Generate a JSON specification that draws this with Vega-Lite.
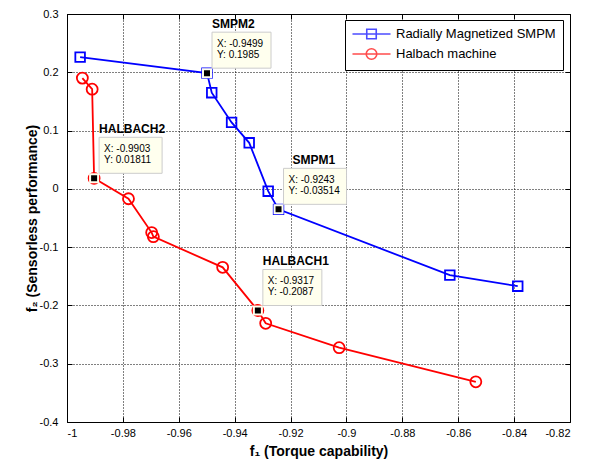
{
  "$schema": "https://vega.github.io/schema/vega-lite/v6.json",
  "width": 503,
  "height": 408,
  "autosize": {"type": "none"},
  "padding": {"left": 67, "top": 14, "right": 26, "bottom": 40},
  "background": "white",
  "datasets": {
    "curves": [
      {"series": "Radially Magnetized SMPM", "i": 1, "f1": -0.9953, "f2": 0.226},
      {"series": "Radially Magnetized SMPM", "i": 2, "f1": -0.9499, "f2": 0.1985},
      {"series": "Radially Magnetized SMPM", "i": 3, "f1": -0.9482, "f2": 0.165},
      {"series": "Radially Magnetized SMPM", "i": 4, "f1": -0.9411, "f2": 0.114},
      {"series": "Radially Magnetized SMPM", "i": 5, "f1": -0.9348, "f2": 0.079},
      {"series": "Radially Magnetized SMPM", "i": 6, "f1": -0.928, "f2": -0.004},
      {"series": "Radially Magnetized SMPM", "i": 7, "f1": -0.9243, "f2": -0.03514},
      {"series": "Radially Magnetized SMPM", "i": 8, "f1": -0.863, "f2": -0.148},
      {"series": "Radially Magnetized SMPM", "i": 9, "f1": -0.8387, "f2": -0.167},
      {"series": "Halbach machine", "i": 1, "f1": -0.9945, "f2": 0.19},
      {"series": "Halbach machine", "i": 2, "f1": -0.991, "f2": 0.171},
      {"series": "Halbach machine", "i": 3, "f1": -0.9903, "f2": 0.01811},
      {"series": "Halbach machine", "i": 4, "f1": -0.978, "f2": -0.017},
      {"series": "Halbach machine", "i": 5, "f1": -0.9697, "f2": -0.075},
      {"series": "Halbach machine", "i": 6, "f1": -0.9691, "f2": -0.082},
      {"series": "Halbach machine", "i": 7, "f1": -0.9443, "f2": -0.1346},
      {"series": "Halbach machine", "i": 8, "f1": -0.9317, "f2": -0.2087},
      {"series": "Halbach machine", "i": 9, "f1": -0.9289, "f2": -0.2307},
      {"series": "Halbach machine", "i": 10, "f1": -0.9026, "f2": -0.2725},
      {"series": "Halbach machine", "i": 11, "f1": -0.8537, "f2": -0.331}
    ],
    "tips": [
      {"name": "SMPM2", "f1": -0.9499, "f2": 0.1985, "xt": "X: -0.9499", "yt": "Y: 0.1985"},
      {"name": "HALBACH2", "f1": -0.9903, "f2": 0.01811, "xt": "X: -0.9903", "yt": "Y: 0.01811"},
      {"name": "SMPM1", "f1": -0.9243, "f2": -0.03514, "xt": "X: -0.9243", "yt": "Y: -0.03514"},
      {"name": "HALBACH1", "f1": -0.9317, "f2": -0.2087, "xt": "X: -0.9317", "yt": "Y: -0.2087"}
    ]
  },
  "config": {
    "font": "Liberation Sans",
    "view": {"stroke": "black", "strokeWidth": 1},
    "axis": {
      "domain": false,
      "labelFont": "Liberation Sans",
      "labelFontSize": 11,
      "labelColor": "black",
      "tickColor": "black",
      "tickSize": -5,
      "titleFont": "Liberation Sans",
      "titleFontWeight": "bold",
      "titleFontSize": 14,
      "titleColor": "black"
    }
  },
  "layer": [
    {
      "data": {"name": "curves"},
      "mark": {"type": "line", "strokeWidth": 1.8},
      "encoding": {
        "x": {
          "field": "f1", "type": "quantitative",
          "scale": {"domain": [-1, -0.82], "nice": false, "zero": false},
          "axis": {
            "orient": "bottom",
            "values": [-1, -0.98, -0.96, -0.94, -0.92, -0.9, -0.88, -0.86, -0.84, -0.82],
            "labelExpr": "'' + datum.value",
            "labelPadding": 10,
            "grid": true, "gridColor": "#000", "gridDash": [1, 2], "gridWidth": 1,
            "title": "f₁ (Torque capability)",
            "titleX": 251.5, "titleY": 29, "titleBaseline": "middle"
          }
        },
        "y": {
          "field": "f2", "type": "quantitative",
          "scale": {"domain": [-0.4, 0.3], "nice": false, "zero": false},
          "axis": {
            "orient": "left",
            "values": [-0.4, -0.3, -0.2, -0.1, 0, 0.1, 0.2, 0.3],
            "labelExpr": "'' + datum.value",
            "labelPadding": 14,
            "grid": true, "gridColor": "#000", "gridDash": [1, 2], "gridWidth": 1,
            "title": "f₂ (Sensorless performance)",
            "titleX": -35, "titleY": 204, "titleAngle": -90, "titleBaseline": "middle", "titleAlign": "center"
          }
        },
        "order": {"field": "i", "type": "quantitative"},
        "color": {
          "field": "series", "type": "nominal",
          "scale": {"domain": ["Radially Magnetized SMPM", "Halbach machine"], "range": ["#0000ff", "#ff0000"]},
          "legend": {
            "title": null,
            "orient": "none",
            "legendX": 278,
            "legendY": 6,
            "padding": 7,
            "strokeColor": "black",
            "fillColor": "white",
            "labelFont": "Liberation Sans",
            "labelFontSize": 13,
            "labelColor": "black",
            "symbolOffset": 12.5,
            "labelOffset": 17.5,
            "rowPadding": 3,
            "symbolSize": 144,
            "symbolStrokeWidth": 1.6,
            "symbolFillColor": "transparent"
          }
        }
      }
    },
    {
      "data": {"name": "curves"},
      "transform": [{"filter": "false"}],
      "mark": {"type": "point", "filled": false, "strokeWidth": 1.6, "size": 144},
      "encoding": {
        "x": {"field": "f1", "type": "quantitative", "axis": null},
        "y": {"field": "f2", "type": "quantitative", "axis": null},
        "color": {
          "field": "series", "type": "nominal",
          "scale": {"domain": ["Radially Magnetized SMPM", "Halbach machine"], "range": ["#0000ff", "#ff0000"]}
        },
        "shape": {
          "field": "series", "type": "nominal",
          "scale": {
            "domain": ["Radially Magnetized SMPM", "Halbach machine"],
            "range": [
              "M-3.17,0H3.17M-0.79,-0.79H0.79V0.79H-0.79Z",
              "M-3.17,0H3.17M0.88,0C0.88,0.486 0.486,0.88 0,0.88C-0.486,0.88 -0.88,0.486 -0.88,0C-0.88,-0.486 -0.486,-0.88 0,-0.88C0.486,-0.88 0.88,-0.486 0.88,0Z"
            ]
          }
        }
      }
    },
    {
      "data": {"name": "curves"},
      "transform": [{"filter": "datum.series === 'Radially Magnetized SMPM'"}],
      "mark": {"type": "point", "shape": "square", "filled": false, "stroke": "#0000ff", "strokeWidth": 1.8, "size": 92, "opacity": 1},
      "encoding": {
        "x": {
          "field": "f1", "type": "quantitative",
          "axis": {"orient": "top", "labels": false, "grid": false, "title": null,
                   "values": [-1, -0.98, -0.96, -0.94, -0.92, -0.9, -0.88, -0.86, -0.84, -0.82]}
        },
        "y": {
          "field": "f2", "type": "quantitative",
          "axis": {"orient": "right", "labels": false, "grid": false, "title": null,
                   "values": [-0.4, -0.3, -0.2, -0.1, 0, 0.1, 0.2, 0.3]}
        }
      }
    },
    {
      "data": {"name": "curves"},
      "transform": [{"filter": "datum.series === 'Halbach machine'"}],
      "mark": {"type": "point", "shape": "circle", "filled": false, "stroke": "#ff0000", "strokeWidth": 1.8, "size": 121, "opacity": 1},
      "encoding": {
        "x": {"field": "f1", "type": "quantitative", "axis": null},
        "y": {"field": "f2", "type": "quantitative", "axis": null}
      }
    },
    {
      "data": {"name": "tips"},
      "transform": [{"filter": "datum.name === 'SMPM2' || datum.name === 'HALBACH1'"}],
      "mark": {"type": "rect", "fill": "#ffffee", "stroke": "#cccccc", "strokeWidth": 1,
               "xOffset": 5, "x2Offset": 64, "yOffset": -41, "y2Offset": -5},
      "encoding": {
        "x": {"field": "f1", "type": "quantitative", "axis": null},
        "x2": {"field": "f1"},
        "y": {"field": "f2", "type": "quantitative", "axis": null},
        "y2": {"field": "f2"}
      }
    },
    {
      "data": {"name": "tips"},
      "transform": [{"filter": "datum.name === 'SMPM1' || datum.name === 'HALBACH2'"}],
      "mark": {"type": "rect", "fill": "#ffffee", "stroke": "#cccccc", "strokeWidth": 1,
               "xOffset": 5, "x2Offset": 68, "yOffset": -41, "y2Offset": -5},
      "encoding": {
        "x": {"field": "f1", "type": "quantitative", "axis": null},
        "x2": {"field": "f1"},
        "y": {"field": "f2", "type": "quantitative", "axis": null},
        "y2": {"field": "f2"}
      }
    },
    {
      "data": {"name": "tips"},
      "mark": {"type": "text", "align": "left", "baseline": "middle", "dx": 10, "dy": -29,
               "fontSize": 10, "font": "Liberation Sans", "color": "black"},
      "encoding": {
        "x": {"field": "f1", "type": "quantitative", "axis": null},
        "y": {"field": "f2", "type": "quantitative", "axis": null},
        "text": {"field": "xt"}
      }
    },
    {
      "data": {"name": "tips"},
      "mark": {"type": "text", "align": "left", "baseline": "middle", "dx": 10, "dy": -18,
               "fontSize": 10, "font": "Liberation Sans", "color": "black"},
      "encoding": {
        "x": {"field": "f1", "type": "quantitative", "axis": null},
        "y": {"field": "f2", "type": "quantitative", "axis": null},
        "text": {"field": "yt"}
      }
    },
    {
      "data": {"name": "tips"},
      "transform": [{"filter": "datum.name !== 'SMPM1'"}],
      "mark": {"type": "text", "align": "left", "baseline": "middle", "dx": 5, "dy": -49,
               "fontSize": 12, "fontWeight": "bold", "font": "Liberation Sans", "color": "black"},
      "encoding": {
        "x": {"field": "f1", "type": "quantitative", "axis": null},
        "y": {"field": "f2", "type": "quantitative", "axis": null},
        "text": {"field": "name"}
      }
    },
    {
      "data": {"name": "tips"},
      "transform": [{"filter": "datum.name === 'SMPM1'"}],
      "mark": {"type": "text", "align": "left", "baseline": "middle", "dx": 14, "dy": -49,
               "fontSize": 12, "fontWeight": "bold", "font": "Liberation Sans", "color": "black"},
      "encoding": {
        "x": {"field": "f1", "type": "quantitative", "axis": null},
        "y": {"field": "f2", "type": "quantitative", "axis": null},
        "text": {"field": "name"}
      }
    },
    {
      "data": {"name": "tips"},
      "mark": {"type": "point", "shape": "square", "filled": true, "fill": "black", "stroke": "#ffffee",
               "strokeWidth": 2, "size": 64, "opacity": 1},
      "encoding": {
        "x": {"field": "f1", "type": "quantitative", "axis": null},
        "y": {"field": "f2", "type": "quantitative", "axis": null}
      }
    }
  ],
  "resolve": {"axis": {"x": "independent", "y": "independent"}}
}
